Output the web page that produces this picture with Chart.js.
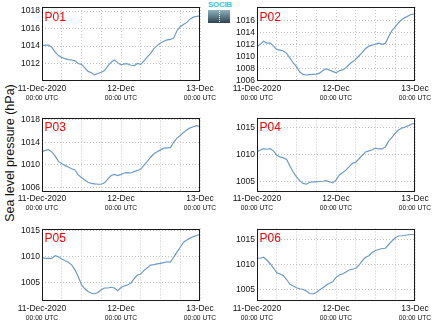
<!DOCTYPE html>
<html>
<head>
<meta charset="utf-8">
<script src="https://cdn.jsdelivr.net/npm/chart.js@4.4.1/dist/chart.umd.min.js"></script>
<style>
  html, body { margin: 0; padding: 0; background: #fff; }
  #wrap { position: relative; width: 434px; height: 327px; overflow: hidden;
          font-family: "Liberation Sans", Arial, sans-serif; }
  #wrap canvas { position: absolute; }
  #ylab { position: absolute; left: 10px; top: 153px; transform: translate(-50%, -50%) rotate(-90deg);
          font-size: 12.5px; white-space: nowrap; color: #111; }
  #logo { position: absolute; left: 208px; top: 1px; width: 22px; }
  #logo .txt { font-size: 8px; line-height: 8px; color: #3fc3dc; letter-spacing: -0.3px; font-weight: bold; }
  #logo .box { position: relative; width: 22px; height: 13px; margin-top: 1px;
               background: linear-gradient(#8fb3c0, #2c4350); }
  #logo .box::after { content: ""; position: absolute; left: 11px; top: 1px; height: 11px;
                      border-left: 1px dotted #fff; }
</style>
</head>
<body>
<div id="wrap">
  <div id="ylab">Sea level pressure (hPa)</div>
  <div id="logo"><div class="txt">SOCIB</div><div class="box"></div></div>
</div>
<script>
// Hours since 11-Dec-2020 00:00 UTC
const hours = [0,1,2,3,4,5,6,7,8,9,10,11,12,13,14,15,16,17,18,19,20,21,22,23,24,
               25,26,27,28,29,30,31,32,33,34,35,36,37,38,39,40,41,42,43,44,45,46,47,48];

// Hourly sea level pressure (hPa) at each station
const p01 = [1014.05,1014.1,1014.1,1013.85,1013.3,1012.9,1012.7,1012.55,1012.45,1012.4,1012.3,1012.0,1011.9,
             1011.5,1011.1,1010.95,1010.7,1010.85,1011.0,1011.2,1011.7,1012.15,1012.4,1012.1,1011.85,
             1011.95,1011.95,1011.8,1011.75,1012.0,1011.9,1012.3,1012.75,1013.15,1013.7,1014.05,1014.35,
             1014.55,1014.7,1014.75,1014.9,1015.75,1016.2,1016.45,1016.7,1017.1,1017.3,1017.4,1017.45];
const p02 = [1011.65,1012.0,1012.5,1012.2,1012.2,1011.7,1011.15,1011.05,1010.9,1010.5,1009.7,1008.9,1008.3,
             1007.4,1007.0,1006.9,1006.95,1007.0,1007.05,1007.2,1007.65,1007.95,1007.7,1007.5,1007.25,
             1007.6,1007.75,1008.1,1008.65,1009.1,1009.5,1010.1,1010.65,1011.3,1011.7,1011.85,1012.05,
             1012.2,1012.0,1012.15,1013.3,1014.3,1014.9,1015.6,1016.15,1016.45,1016.75,1017.0,1017.05];
const p03 = [1012.35,1012.55,1012.7,1012.25,1011.55,1010.6,1010.2,1009.9,1009.6,1009.3,1009.1,1008.2,1007.75,
             1007.3,1006.9,1006.7,1006.6,1006.55,1006.55,1006.8,1007.45,1008.1,1008.3,1008.1,1008.3,
             1008.55,1008.6,1008.55,1008.8,1009.0,1009.25,1009.95,1010.6,1011.35,1011.95,1012.3,1012.65,
             1012.95,1013.0,1013.05,1014.0,1014.75,1015.2,1015.75,1016.2,1016.55,1016.75,1016.95,1016.75];
const p04 = [1010.55,1010.85,1011.1,1011.0,1011.1,1010.7,1009.9,1009.6,1009.4,1009.1,1007.9,1006.8,1005.9,
             1005.2,1004.7,1004.55,1004.9,1005.0,1005.0,1005.05,1005.1,1005.2,1005.0,1004.8,1005.3,
             1006.25,1006.65,1007.15,1007.8,1008.4,1008.6,1009.25,1009.9,1010.5,1010.7,1010.9,1011.2,
             1011.05,1011.05,1011.4,1012.5,1013.2,1013.95,1014.55,1014.9,1015.1,1015.35,1015.65,1015.75];
const p05 = [1009.85,1009.7,1009.7,1009.7,1010.2,1010.0,1009.6,1009.25,1008.95,1008.45,1007.5,1006.2,1004.6,
             1003.85,1003.35,1003.0,1002.9,1003.15,1003.65,1004.0,1004.0,1004.15,1004.0,1003.5,1004.1,
             1004.4,1004.6,1004.95,1005.8,1006.5,1006.7,1007.4,1007.9,1008.4,1008.5,1008.65,1008.75,
             1008.9,1009.05,1009.0,1009.9,1010.9,1011.85,1012.8,1013.25,1013.6,1013.9,1014.1,1014.35];
const p06 = [1011.35,1011.35,1011.55,1010.95,1010.25,1009.4,1008.45,1008.2,1007.85,1007.1,1006.15,1005.8,1005.45,
             1005.25,1005.1,1004.8,1004.3,1004.2,1004.5,1005.0,1005.45,1005.95,1006.35,1006.65,1007.5,
             1008.0,1008.2,1008.6,1009.0,1009.15,1009.3,1010.0,1010.85,1011.55,1011.85,1012.5,1012.9,
             1013.1,1013.3,1013.35,1014.1,1014.8,1015.45,1015.8,1015.85,1015.95,1016.05,1016.1,1016.1];

// Axis ranges and tick values per station
const p01Range = [1010.0, 1018.45];
const p02Range = [1005.9, 1018.2];
const p03Range = [1005.35, 1018.4];
const p04Range = [1003.3, 1016.85];
const p05Range = [1001.6, 1015.45];
const p06Range = [1002.9, 1017.3];
const p01Ticks = [1012, 1014, 1016, 1018];
const p02Ticks = [1006, 1008, 1010, 1012, 1014, 1016];
const p03Ticks = [1006, 1008, 1010, 1012, 1014, 1016, 1018];
const p04Ticks = [1005, 1010, 1015];
const p05Ticks = [1005, 1010, 1015];
const p06Ticks = [1005, 1010, 1015];

// Time axis
const gridHours = [0, 6, 12, 18, 24, 30, 36, 42, 48];
const dayHours = [0, 24, 48];
const dayLabels = ['11-Dec-2020', '12-Dec', '13-Dec'];
const timeLabel = '00:00 UTC';

const panelNames = ['P01', 'P02', 'P03', 'P04', 'P05', 'P06'];
const panelSeries = [p01, p02, p03, p04, p05, p06];
const panelRanges = [p01Range, p02Range, p03Range, p04Range, p05Range, p06Range];
const panelTicks = [p01Ticks, p02Ticks, p03Ticks, p04Ticks, p05Ticks, p06Ticks];

// Grid of panels: 2 columns x 3 rows
const cols = [
  { left: 0, width: 217, padRight: 17 },
  { left: 215, width: 219, padRight: 19 }
];
const rows = [
  { top: 0, height: 105, padTop: 7, axisH: 24 },
  { top: 105, height: 110, padTop: 12.5, axisH: 24 },
  { top: 215, height: 112, padTop: 13.5, axisH: 26.5 }
];

const FONT = '"Liberation Sans", Arial, sans-serif';
const INK = '#111';

// Frame, station name and the second line of the time labels
const panelDecor = {
  id: 'panelDecor',
  afterDraw(chart) {
    const { ctx, chartArea: a } = chart;
    const xs = chart.scales.x;
    ctx.save();
    ctx.strokeStyle = '#1a1a1a';
    ctx.lineWidth = 1;
    ctx.strokeRect(Math.round(a.left) + 0.5, Math.round(a.top) + 0.5,
                   Math.round(a.right - a.left) - 1, Math.round(a.bottom - a.top) - 1);
    ctx.fillStyle = '#ff0000';
    ctx.font = '12px ' + FONT;
    ctx.textAlign = 'left';
    ctx.textBaseline = 'alphabetic';
    ctx.fillText(chart.options.plugins.panelDecor.name, a.left + 2.5, a.top + 13.5);
    ctx.fillStyle = INK;
    ctx.font = '6.7px ' + FONT;
    ctx.textAlign = 'center';
    ctx.textBaseline = 'middle';
    dayHours.forEach(h => ctx.fillText(timeLabel, xs.getPixelForValue(h), a.bottom + 17.5));
    ctx.restore();
  }
};

const wrap = document.getElementById('wrap');
panelNames.forEach((name, i) => {
  const col = cols[i % 2];
  const row = rows[Math.floor(i / 2)];
  const cv = document.createElement('canvas');
  cv.width = col.width;
  cv.height = row.height;
  cv.style.left = col.left + 'px';
  cv.style.top = row.top + 'px';
  cv.style.width = col.width + 'px';
  cv.style.height = row.height + 'px';
  wrap.appendChild(cv);

  const series = panelSeries[i];
  new Chart(cv, {
    type: 'line',
    data: {
      datasets: [{
        data: hours.map((h, k) => ({ x: h, y: series[k] })),
        borderColor: '#6b9bcb',
        borderWidth: 1.2,
        pointRadius: 0,
        tension: 0,
        fill: false
      }]
    },
    options: {
      responsive: false,
      animation: false,
      devicePixelRatio: 1,
      layout: { padding: { top: row.padTop, right: col.padRight, left: 0, bottom: 0 } },
      plugins: {
        legend: { display: false },
        tooltip: { enabled: false },
        panelDecor: { name }
      },
      scales: {
        x: {
          type: 'linear',
          min: 0,
          max: 48,
          afterBuildTicks: s => { s.ticks = gridHours.map(v => ({ value: v })); },
          afterFit: s => { s.height = row.axisH; },
          ticks: {
            autoSkip: false,
            maxRotation: 0,
            padding: 3,
            color: INK,
            font: { family: FONT, size: 8.5 },
            callback: v => {
              const k = dayHours.indexOf(v);
              return k >= 0 ? dayLabels[k] : '';
            }
          },
          grid: { color: '#c4c4c4', lineWidth: 1, drawTicks: false },
          border: { display: false, dash: [1, 2] }
        },
        y: {
          type: 'linear',
          min: panelRanges[i][0],
          max: panelRanges[i][1],
          afterBuildTicks: s => { s.ticks = panelTicks[i].map(v => ({ value: v })); },
          afterFit: s => { s.width = 42; },
          ticks: {
            padding: 2,
            color: INK,
            font: { family: FONT, size: 8.5 },
            callback: v => String(v)
          },
          grid: { color: '#c4c4c4', lineWidth: 1, drawTicks: false },
          border: { display: false, dash: [1, 2] }
        }
      }
    },
    plugins: [panelDecor]
  });
});
</script>
</body>
</html>
